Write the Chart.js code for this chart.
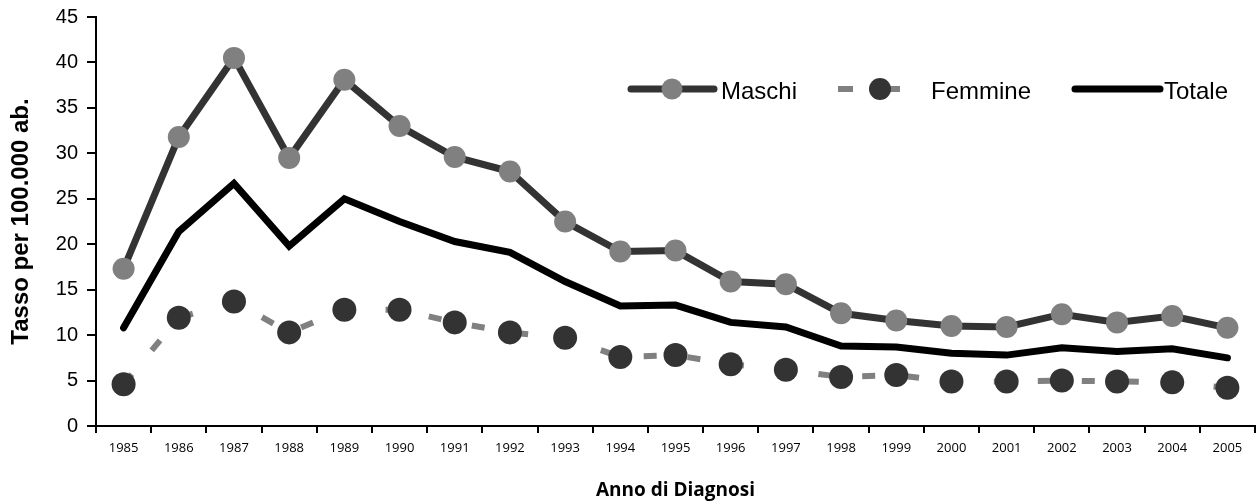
<!DOCTYPE html>
<html>
<head>
<meta charset="utf-8">
<script src="https://cdn.jsdelivr.net/npm/chart.js@4"></script>
<style>
  html, body { margin: 0; padding: 0; background: #fff; overflow: hidden; }
  #wrap { width: 1257px; height: 502px; position: relative; }
</style>
</head>
<body>
<div id="wrap"><canvas id="chart"></canvas></div>
<script>
// ---- data ----
const years = ['1985','1986','1987','1988','1989','1990','1991','1992','1993','1994','1995',
               '1996','1997','1998','1999','2000','2001','2002','2003','2004','2005'];
const maschi  = [17.3, 31.8, 40.5, 29.5, 38.1, 33.0, 29.6, 28.0, 22.5, 19.2, 19.3,
                 15.9, 15.6, 12.4, 11.6, 11.0, 10.9, 12.3, 11.4, 12.1, 10.8];
const femmine = [4.6, 11.9, 13.7, 10.3, 12.8, 12.8, 11.4, 10.3, 9.7, 7.6, 7.8,
                 6.8, 6.2, 5.4, 5.6, 4.9, 4.9, 5.0, 4.9, 4.8, 4.2];
const totale  = [10.8, 21.4, 26.7, 19.8, 25.0, 22.5, 20.3, 19.1, 15.9, 13.2, 13.3,
                 11.4, 10.9, 8.8, 8.7, 8.0, 7.8, 8.6, 8.2, 8.5, 7.5];
const yTicks  = [0, 5, 10, 15, 20, 25, 30, 35, 40, 45];

const DARK = '#333333', GREY = '#808080';

// ---- custom legend drawn on canvas (Excel-like samples) ----
const legendPlugin = {
  id: 'xlLegend',
  afterDraw(chart) {
    const c = chart.ctx;
    const y = 89;
    c.save();
    c.font = '24px "Liberation Sans", Arial, sans-serif';
    c.fillStyle = '#000';
    c.textBaseline = 'middle';
    c.lineCap = 'round';

    // Maschi
    c.strokeStyle = DARK; c.lineWidth = 7;
    c.beginPath(); c.moveTo(631, y); c.lineTo(714, y); c.stroke();
    c.fillStyle = GREY; c.beginPath(); c.arc(672, y, 10.5, 0, Math.PI * 2); c.fill();
    c.fillStyle = '#000'; c.fillText('Maschi', 721, y + 3);

    // Femmine
    c.lineCap = 'butt';
    c.strokeStyle = GREY; c.lineWidth = 6;
    c.beginPath(); c.moveTo(838, y); c.lineTo(853, y); c.stroke();
    c.beginPath(); c.moveTo(880, y); c.lineTo(900, y); c.stroke();
    c.fillStyle = DARK; c.beginPath(); c.arc(880, y, 11, 0, Math.PI * 2); c.fill();
    c.fillStyle = '#000'; c.fillText('Femmine', 931, y + 3);

    // Totale
    c.lineCap = 'round';
    c.strokeStyle = '#000'; c.lineWidth = 7;
    c.beginPath(); c.moveTo(1075, y); c.lineTo(1160, y); c.stroke();
    c.fillText('Totale', 1164, y + 3);
    c.restore();
  }
};

new Chart(document.getElementById('chart'), {
  type: 'line',
  data: {
    labels: years,
    datasets: [
      {
        label: 'Totale', data: totale,
        borderColor: '#000', borderWidth: 7, pointRadius: 0,
        borderJoinStyle: 'miter', borderCapStyle: 'round', order: 3
      },
      {
        label: 'Femmine', data: femmine,
        borderColor: GREY, borderWidth: 6, borderDash: [13, 31],
        pointRadius: 12, pointBackgroundColor: DARK, pointBorderWidth: 0,
        pointHoverRadius: 12, order: 2
      },
      {
        label: 'Maschi', data: maschi,
        borderColor: DARK, borderWidth: 7,
        pointRadius: 11, pointBackgroundColor: GREY, pointBorderWidth: 0,
        pointHoverRadius: 11, order: 1
      }
    ]
  },
  options: {
    responsive: true,
    maintainAspectRatio: false,
    animation: false,
    // autoPadding off: otherwise the big point radius eats ~10px on the right
    layout: { autoPadding: false, padding: { left: 0, top: 17, right: 2, bottom: 0 } },
    plugins: { legend: { display: false }, tooltip: { enabled: false } },
    scales: {
      x: {
        offset: true,
        grid: { offset: true, drawOnChartArea: false, drawTicks: true, tickLength: 7, color: '#000', lineWidth: 2 },
        border: { color: '#000', width: 2 },
        ticks: { color: '#000', padding: 7, maxRotation: 0, autoSkip: false,
                 font: { family: '"Open Sans", "Noto Sans", sans-serif', size: 13 } },
        title: { display: true, text: 'Anno di Diagnosi', color: '#000',
                 padding: { top: 10, bottom: 0 },
                 font: { family: '"Open Sans", sans-serif', size: 19, weight: 'bold' } },
        afterFit: (s) => { s.height = 76; s.paddingLeft = 0; s.paddingRight = 0; }
      },
      y: {
        min: 0, max: 45,
        afterBuildTicks: (s) => { s.ticks = yTicks.map(v => ({ value: v })); },
        grid: { drawOnChartArea: false, drawTicks: true, tickLength: 9, color: '#000', lineWidth: 2 },
        border: { color: '#000', width: 2 },
        ticks: { color: '#000', padding: 9,
                 font: { family: '"Liberation Sans", Arial, sans-serif', size: 20 } },
        title: { display: true, text: 'Tasso per 100.000 ab.', color: '#000',
                 padding: { top: 7, bottom: 0 },
                 font: { family: '"Liberation Sans", Arial, sans-serif', size: 24, weight: 'bold' } },
        afterFit: (s) => { s.width = 96; s.paddingTop = 0; s.paddingBottom = 0; }
      }
    }
  },
  plugins: [legendPlugin]
});
</script>
</body>
</html>
